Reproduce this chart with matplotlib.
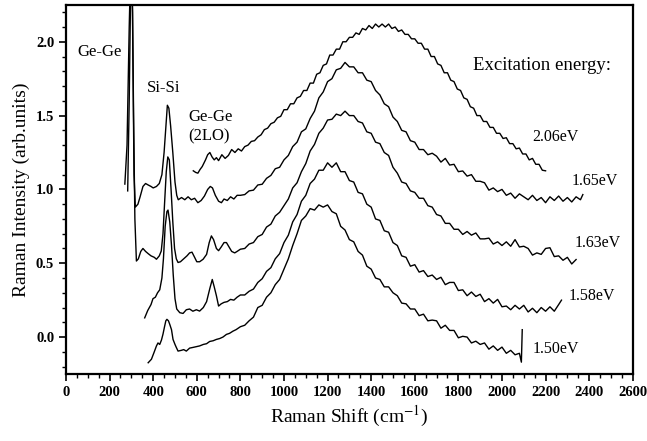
import matplotlib.pyplot as plt
from matplotlib.ticker import MultipleLocator, FormatStrFormatter

# Raman spectra at several excitation energies
# each curve = hand-read left part (phonon peaks) + broad band part

x_206_a = [584, 595, 605, 615, 625, 640, 650, 660, 670, 680, 690, 700, 715, 730, 745, 760,
           775, 790, 805, 820, 835, 850, 865, 880, 895, 910, 925, 940, 955, 970, 985]
y_206_a = [1.126, 1.115, 1.11, 1.135, 1.155, 1.20, 1.235, 1.25, 1.22, 1.20, 1.215, 1.195, 1.235,
           1.21, 1.23, 1.27, 1.25, 1.275, 1.26, 1.29, 1.30, 1.325, 1.33, 1.355, 1.37, 1.405,
           1.415, 1.445, 1.455, 1.485, 1.495]
x_206_b = list(range(1000, 2201, 15))
y_206_b = [1.54, 1.54, 1.58, 1.58, 1.62, 1.63, 1.67, 1.67, 1.72, 1.72,
           1.78, 1.79, 1.84, 1.85, 1.91, 1.91, 1.95, 1.95, 2.00, 2.00,
           2.03, 2.03, 2.06, 2.05, 2.09, 2.08, 2.11, 2.09, 2.12, 2.10,
           2.12, 2.10, 2.12, 2.09, 2.10, 2.07, 2.08, 2.05, 2.05, 2.02,
           2.02, 1.99, 1.99, 1.95, 1.95, 1.90, 1.90, 1.85, 1.84, 1.79,
           1.79, 1.74, 1.73, 1.68, 1.67, 1.62, 1.61, 1.56, 1.55, 1.50,
           1.50, 1.46, 1.46, 1.42, 1.42, 1.38, 1.38, 1.345, 1.35, 1.31,
           1.31, 1.275, 1.28, 1.24, 1.24, 1.20, 1.21, 1.17, 1.17, 1.13,
           1.126]

x_165_a = [270, 280, 290, 298, 305, 312, 318, 330, 340, 353, 365, 377, 390, 400, 415, 428,
           440, 450, 458, 465, 472, 480, 490, 500, 508, 515, 530, 545, 560, 575, 590, 605,
           620, 635, 650, 662, 672, 685, 700, 713, 725, 740, 755, 770, 785]
y_165_a = [1.036, 1.30, 2.10, 2.60, 2.20, 1.10, 0.88, 0.90, 0.95, 1.02, 1.04, 1.03, 1.02, 1.01,
           1.02, 1.04, 1.10, 1.25, 1.42, 1.57, 1.55, 1.43, 1.25, 1.05, 0.96, 0.93, 0.945, 0.93,
           0.95, 0.93, 0.94, 0.91, 0.925, 0.955, 1.00, 1.02, 1.01, 0.96, 0.92, 0.91, 0.935,
           0.925, 0.95, 0.935, 0.96]
x_165_b = list(range(800, 2361, 20)) + [2371]
y_165_b = [0.96, 0.965, 0.99, 0.995, 1.03, 1.035, 1.075, 1.095, 1.14, 1.15,
           1.20, 1.23, 1.29, 1.32, 1.39, 1.41, 1.48, 1.53, 1.62, 1.66,
           1.73, 1.75, 1.81, 1.82, 1.86, 1.83, 1.83, 1.79, 1.79, 1.74,
           1.73, 1.67, 1.64, 1.58, 1.56, 1.49, 1.46, 1.40, 1.39, 1.33,
           1.32, 1.27, 1.27, 1.235, 1.245,
           1.225, 1.185, 1.21, 1.165, 1.17, 1.12, 1.125, 1.09, 1.10, 1.055,
           1.055, 1.045, 0.995, 1.01, 0.985, 1.00, 0.96, 0.975, 0.94, 0.97,
           0.95, 0.93, 0.96, 0.925, 0.945, 0.91, 0.95, 0.925, 0.955, 0.92,
           0.945, 0.915, 0.95, 0.93, 0.965]

x_163_a = [283, 290, 298, 304, 310, 316, 323, 332, 343, 353, 365, 377, 390, 405, 415, 428,
           437, 445, 452, 460, 467, 474, 482, 490, 498, 506, 514, 525, 540, 555, 567, 578,
           590, 600, 613, 629, 645, 657, 667, 677, 690, 700, 712, 725, 736, 748, 760, 774, 785]
y_163_a = [0.99, 1.60, 2.50, 2.40, 1.50, 0.80, 0.515, 0.53, 0.58, 0.60, 0.58, 0.565, 0.55, 0.54,
           0.527, 0.55, 0.583, 0.70, 0.90, 1.12, 1.22, 1.20, 1.00, 0.78, 0.60, 0.53, 0.505,
           0.51, 0.53, 0.55, 0.57, 0.575, 0.54, 0.51, 0.51, 0.527, 0.56, 0.64, 0.685, 0.66,
           0.60, 0.585, 0.61, 0.64, 0.64, 0.61, 0.58, 0.57, 0.58]
x_163_b = list(range(800, 2341, 20))
y_163_b = [0.595, 0.60, 0.63, 0.64, 0.68, 0.695, 0.745, 0.765, 0.82, 0.845,
           0.89, 0.935, 1.01, 1.045, 1.12, 1.175, 1.26, 1.305, 1.38, 1.415,
           1.47, 1.475, 1.51, 1.50, 1.53, 1.50, 1.50, 1.46, 1.45, 1.39,
           1.38, 1.32, 1.31, 1.25, 1.23, 1.15, 1.11, 1.05, 1.04, 0.99,
           0.98, 0.94, 0.94, 0.89, 0.88, 0.83, 0.82, 0.77, 0.77, 0.73,
           0.73, 0.695, 0.715, 0.69, 0.705, 0.665, 0.665, 0.67, 0.63, 0.645,
           0.62, 0.645, 0.615, 0.66, 0.61, 0.615, 0.60, 0.555, 0.57, 0.56,
           0.60, 0.605, 0.545, 0.55, 0.52, 0.54, 0.495, 0.525]

x_158_a = [361, 375, 390, 399, 410, 420, 430, 440, 447, 455, 463, 468, 476, 484, 492, 500,
           508, 522, 537, 552, 567, 582, 598, 613, 630, 645, 660, 671, 680, 690, 700, 712,
           725, 740, 755, 770, 785]
y_158_a = [0.13, 0.18, 0.22, 0.26, 0.27, 0.30, 0.32, 0.40, 0.53, 0.75, 0.85, 0.86, 0.78, 0.62,
           0.42, 0.26, 0.19, 0.165, 0.16, 0.185, 0.19, 0.175, 0.185, 0.176, 0.20, 0.24, 0.33,
           0.39, 0.34, 0.28, 0.21, 0.225, 0.235, 0.24, 0.255, 0.25, 0.27]
x_158_b = list(range(800, 2261, 20)) + [2273]
y_158_b = [0.285, 0.285, 0.31, 0.325, 0.37, 0.395, 0.445, 0.47, 0.53, 0.565,
           0.64, 0.69, 0.78, 0.83, 0.92, 0.96, 1.04, 1.07, 1.13, 1.13,
           1.18, 1.15, 1.18, 1.12, 1.12, 1.06, 1.05, 0.98, 0.97, 0.90,
           0.88, 0.80, 0.79, 0.72, 0.71, 0.64, 0.62, 0.55, 0.54, 0.48,
           0.49, 0.44, 0.45, 0.41, 0.42,
           0.39, 0.405, 0.355, 0.37, 0.37, 0.315, 0.32, 0.28, 0.305, 0.275,
           0.29, 0.24, 0.26, 0.23, 0.255, 0.205, 0.21, 0.185, 0.215, 0.19,
           0.215, 0.17, 0.195, 0.165, 0.20, 0.175, 0.205, 0.175, 0.22, 0.25]

x_150_a = [377, 392, 405, 415, 422, 430, 438, 445, 452, 458, 463, 470, 476, 484, 491, 500,
           506, 514, 529, 540, 552, 567, 583, 598, 613, 630, 645, 659, 675, 690, 705, 720,
           736, 750, 766, 780]
y_150_a = [-0.174, -0.15, -0.10, -0.06, -0.04, -0.05, -0.02, 0.02, 0.07, 0.11, 0.12, 0.11,
           0.086, 0.05, -0.016, -0.05, -0.07, -0.095, -0.09, -0.085, -0.095, -0.075, -0.07,
           -0.065, -0.06, -0.05, -0.045, -0.03, -0.025, -0.016, -0.01, 0.00, 0.018, 0.025,
           0.04, 0.05]
x_150_b = list(range(800, 2081, 20)) + [2089, 2093]
y_150_b = [0.07, 0.08, 0.11, 0.135, 0.20, 0.215, 0.27, 0.30, 0.355, 0.39,
           0.46, 0.53, 0.62, 0.70, 0.79, 0.82, 0.87, 0.86, 0.895, 0.88,
           0.895, 0.85, 0.835, 0.75, 0.725, 0.66, 0.645, 0.58, 0.555, 0.48,
           0.46, 0.40, 0.39, 0.34, 0.34, 0.30, 0.28, 0.23, 0.225, 0.19,
           0.19, 0.145, 0.155, 0.11, 0.115, 0.11, 0.06, 0.08, 0.045, 0.045,
           -0.005, 0.005, 0.00, -0.04, -0.028, -0.05, -0.04, -0.082, -0.06, -0.09,
           -0.068, -0.11, -0.09, -0.12, -0.11, -0.17, 0.05]

energy_labels = ['2.06eV', '1.65eV', '1.63eV', '1.58eV', '1.50eV']

curves = [
    (x_206_a + x_206_b, y_206_a + y_206_b),
    (x_165_a + x_165_b, y_165_a + y_165_b),
    (x_163_a + x_163_b, y_163_a + y_163_b),
    (x_158_a + x_158_b, y_158_a + y_158_b),
    (x_150_a + x_150_b, y_150_a + y_150_b),
]

plt.rcParams['font.family'] = ['Liberation Serif', 'DejaVu Serif']
plt.rcParams['mathtext.fontset'] = 'stix'

fig = plt.figure(figsize=(6.47, 4.41), dpi=100)
ax = fig.add_axes([0.102, 0.152, 0.876, 0.837])

for xs, ys in curves:
    ax.plot(xs, ys, color='black', lw=1.0)

ax.set_xlim(0, 2600)
ax.set_ylim(-0.25, 2.25)
ax.xaxis.set_major_locator(MultipleLocator(200))
ax.xaxis.set_minor_locator(MultipleLocator(50))
ax.yaxis.set_major_locator(MultipleLocator(0.5))
ax.yaxis.set_minor_locator(MultipleLocator(0.1))
ax.yaxis.set_major_formatter(FormatStrFormatter('%.1f'))
ax.tick_params(which='both', direction='out', top=False, right=False, labelsize=10.5)
ax.tick_params(which='major', length=5, width=1.2)
ax.tick_params(which='minor', length=3, width=1.0)
for lab in ax.get_xticklabels() + ax.get_yticklabels():
    lab.set_fontweight('bold')
for s in ax.spines.values():
    s.set_linewidth(1.6)

ax.set_xlabel('Raman Shift (cm$^{-1}$)', fontsize=14)
ax.set_ylabel('Raman Intensity (arb.units)', fontsize=14)

# peak annotations
ax.text(54, 1.93, 'Ge-Ge', fontsize=12, va='center')
ax.text(369, 1.69, 'Si-Si', fontsize=12, va='center')
ax.text(563, 1.425, 'Ge-Ge\n(2LO)', fontsize=12, va='center', linespacing=1.35)
ax.text(1866, 1.84, 'Excitation energy:', fontsize=13.5, va='center')

label_pos = [(2141, 1.355), (2318, 1.058), (2334, 0.64), (2307, 0.278), (2141, -0.083)]
for lab, (lx, ly) in zip(energy_labels, label_pos):
    ax.text(lx, ly, lab, fontsize=11.5, va='center')

plt.savefig('out.png', dpi=100)
